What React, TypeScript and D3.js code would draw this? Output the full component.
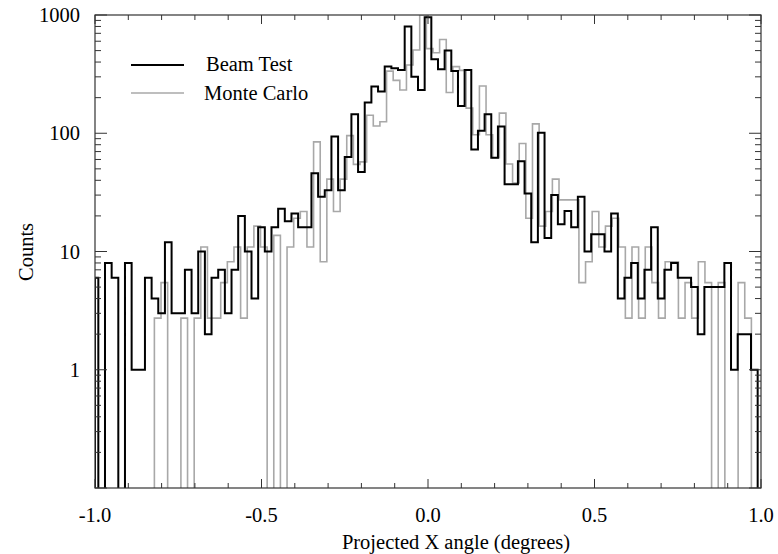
import * as d3 from 'd3';

// bin centres, 0.02 deg wide, -1.0 .. 1.0
const binCenters = d3.range(-50, 51).map(k => k / 50);

const beamTest = [
  6, 0, 8, 6, 0, 8, 1, 1, 6, 4,
  3, 12, 3, 3, 7, 3, 10, 2, 6, 7,
  3, 7, 20, 10, 4, 16, 10, 16, 23, 18,
  21, 16, 16, 46, 29, 33, 94, 33, 63, 145,
  47, 182, 248, 225, 366, 355, 343, 800, 301, 232,
  955, 422, 347, 500, 336, 170, 343, 73, 105, 145,
  62, 114, 37, 37, 58, 31, 12, 101, 13, 30,
  17, 22, 16, 29, 10, 14, 14, 10, 21, 4,
  6, 8, 4, 7, 16, 4, 7, 8, 6, 6,
  5, 2, 5, 5, 5, 8, 1, 2, 2, 1, 0,
];

const monteCarlo = [
  0, 0, 0, 0, 0, 0, 0, 0, 0, 2.73,
  5.46, 0, 0, 2.73, 0, 2.73, 10.9, 2.73, 2.73, 5.46,
  8.19, 10.9, 2.73, 10.9, 16.4, 10.9, 0, 13.7, 0, 10.9,
  19.1, 21.8, 10.9, 84.6, 8.19, 40.9, 21.8, 40.9, 95.5, 54.6,
  57.3, 142, 115, 125, 335, 280, 232, 378, 506, 1000,
  520, 480, 620, 221, 366, 340, 163, 97, 251, 97,
  62, 148, 55, 38, 82, 19.1, 120, 16.4, 21.8, 40.9,
  27.3, 27.3, 27.3, 5.46, 8.19, 21.8, 10.9, 16.4, 19.1, 10.9,
  2.73, 10.9, 2.73, 10.9, 5.46, 2.73, 8.19, 8.19, 2.73, 5.46,
  2.73, 8.19, 5.46, 0, 5.46, 0, 0, 5.46, 2.73, 0, 0,
];

const xTicks = [-1, -0.5, 0, 0.5, 1];
const xTickLabels = ['-1.0', '-0.5', '0.0', '0.5', '1.0'];
const yTicks = [1, 10, 100, 1000];
const yTickLabels = ['1', '10', '100', '1000'];
const seriesNames = ['Beam Test', 'Monte Carlo'];

const W = 778;
const H = 554;
const left = 95, right = 761, top = 15, bottom = 488;
const FONT = "'Liberation Serif', 'Times New Roman', serif";

const x = d3.scaleLinear().domain([-1, 1]).range([left, right]);
const y = d3.scaleLog().domain([0.1, 1000]).range([bottom, top]);
const FLOOR = 0.05; // empty bins drop below the axis and get clipped

// step outline of a histogram; MC binning sits a hair to the right
function stepPath(values: number[], shift = 0, stretch = 1) {
  const half = 0.01;
  const pts: [number, number][] = [];
  values.forEach((v, i) => {
    const c = binCenters[i];
    const lo = Math.max(-1, (c - half) * stretch + shift);
    const hi = Math.min(1, (c + half) * stretch + shift);
    const vv = v > 0 ? v : FLOOR;
    if (i === 0) pts.push([lo, FLOOR]);
    pts.push([lo, vv], [hi, vv]);
  });
  pts.push([pts[pts.length - 1][0], FLOOR]);
  return d3.line<[number, number]>().x(d => x(d[0])).y(d => y(d[1]))(pts) || '';
}

const xMinor = d3.range(-10, 11).map(i => i / 10);
const yMinor: number[] = [];
[0.1, 1, 10, 100].forEach(dec => d3.range(1, 10).forEach(m => yMinor.push(dec * m)));
yMinor.push(1000);

export default function App() {
  const axisColor = '#333';
  return (
    <svg width={W} height={H} style={{ position: 'absolute', left: 0, top: 0, background: '#fff' }}
      fontFamily={FONT}>
      <defs>
        <clipPath id="plot">
          <rect x={left} y={top} width={right - left} height={bottom - top} />
        </clipPath>
      </defs>

      <g clipPath="url(#plot)" fill="none">
        <path d={stepPath(monteCarlo, 0.005, 0.996)} stroke="#a8a8a8" strokeWidth={1.6} />
        <path d={stepPath(beamTest)} stroke="#000" strokeWidth={2} />
      </g>

      {/* frame */}
      <rect x={left} y={top} width={right - left} height={bottom - top} fill="none"
        stroke={axisColor} strokeWidth={1.2} />

      {/* x ticks, top and bottom */}
      {xMinor.map(t => {
        const major = Math.abs(t * 2 - Math.round(t * 2)) < 1e-6;
        const len = major ? 9 : 5;
        return (
          <g key={'x' + t} stroke={axisColor} strokeWidth={1}>
            <line x1={x(t)} x2={x(t)} y1={bottom} y2={bottom - len} />
            <line x1={x(t)} x2={x(t)} y1={top} y2={top + len} />
          </g>
        );
      })}

      {/* y ticks, left and right */}
      {yMinor.map((t, i) => {
        const major = Math.abs(Math.log10(t) - Math.round(Math.log10(t))) < 1e-6;
        const len = major ? 12 : 6;
        return (
          <g key={'y' + i} stroke={axisColor} strokeWidth={1}>
            <line x1={left} x2={left + len} y1={y(t)} y2={y(t)} />
            <line x1={right} x2={right - len} y1={y(t)} y2={y(t)} />
          </g>
        );
      })}

      {xTicks.map((t, i) => (
        <text key={'xl' + i} x={x(t)} y={522} textAnchor="middle" fontSize={20.5} fill="#000">
          {xTickLabels[i]}
        </text>
      ))}
      {yTicks.map((t, i) => (
        <text key={'yl' + i} x={80} y={y(t) + 7} textAnchor="end" fontSize={20.5} fill="#000">
          {yTickLabels[i]}
        </text>
      ))}

      <text x={456} y={549} textAnchor="middle" fontSize={20.5} fill="#000">
        Projected X angle (degrees)
      </text>
      <text transform="translate(33,252) rotate(-90)" textAnchor="middle" fontSize={20.5} fill="#000">
        Counts
      </text>

      {/* legend */}
      <line x1={131} x2={184} y1={65} y2={65} stroke="#000" strokeWidth={2} />
      <text x={206} y={71} fontSize={20.5} fill="#000">{seriesNames[0]}</text>
      <line x1={131} x2={184} y1={93} y2={93} stroke="#a8a8a8" strokeWidth={1.6} />
      <text x={204} y={100} fontSize={20.5} fill="#000">{seriesNames[1]}</text>
    </svg>
  );
}
